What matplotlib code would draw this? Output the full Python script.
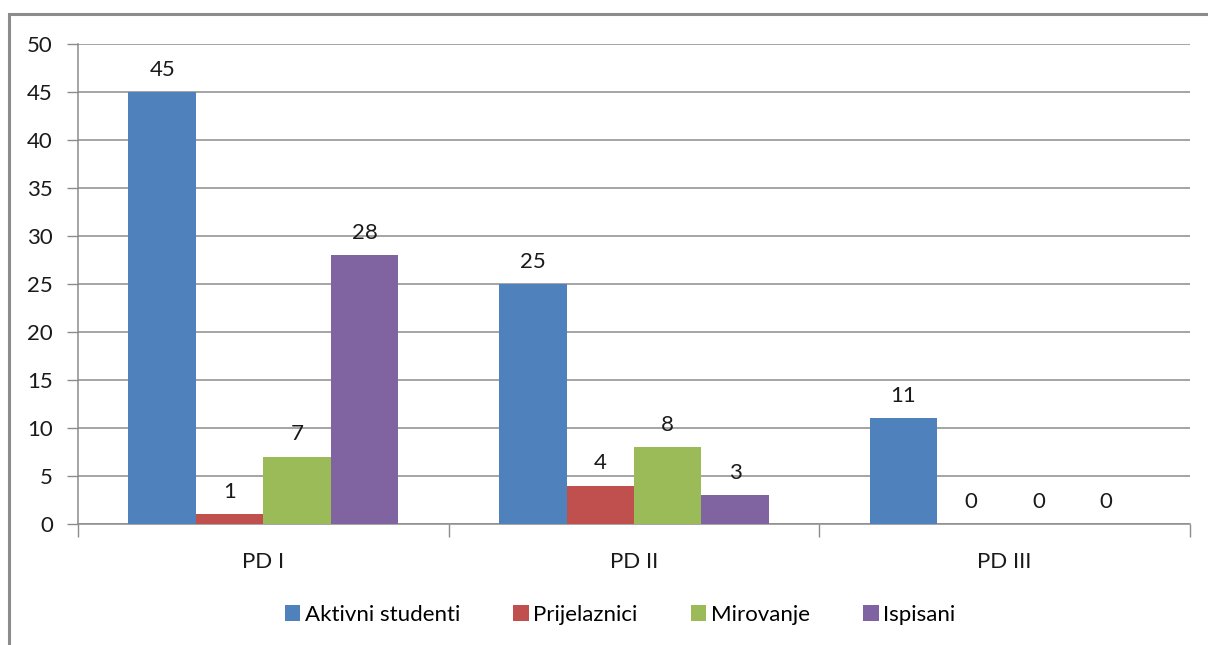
import matplotlib.pyplot as plt
import numpy as np
from matplotlib.patches import Rectangle

categories = ['PD I', 'PD II', 'PD III']
series = ['Aktivni studenti', 'Prijelaznici', 'Mirovanje', 'Ispisani']
values = {
    'Aktivni studenti': [45, 25, 11],
    'Prijelaznici': [1, 4, 0],
    'Mirovanje': [7, 8, 0],
    'Ispisani': [28, 3, 0],
}
colors = ['#4F81BD', '#C0504D', '#9BBB59', '#8064A2']

plt.rcParams['font.family'] = ['Lato', 'DejaVu Sans']
fs = 16

fig = plt.figure(figsize=(12.08, 6.45), dpi=100)
ax = fig.add_axes([78 / 1208, 1 - 524 / 645, (1190 - 78) / 1208, (524 - 44) / 645])

# outer frame of the chart (runs off the right and bottom edges)
fig.patches.append(Rectangle((9 / 1208, -0.05), 1.1, 1 - 14 / 645 + 0.05,
                             transform=fig.transFigure, fill=False,
                             edgecolor='#8C8C8C', linewidth=2.2, zorder=0))

x = np.arange(len(categories))
w = 0.182
for i, (name, col) in enumerate(zip(series, colors)):
    pos = x + (i - 1.5) * w
    ax.bar(pos, values[name], width=w, color=col, label=name, zorder=3)
    for xp, v in zip(pos, values[name]):
        ax.text(xp, v + 1.3, str(v), ha='center', va='bottom', fontsize=fs, color='#1a1a1a')

ax.set_xlim(-0.5, 2.5)
ax.set_ylim(0, 50)
ax.set_yticks(range(0, 51, 5))
ax.yaxis.grid(True, color='#8C8C8C', linewidth=1.1, zorder=0)
ax.set_axisbelow(True)

ax.set_xticks([-0.5, 0.5, 1.5, 2.5])
ax.set_xticklabels([])
ax.set_xticks(x, minor=True)
ax.set_xticklabels(categories, minor=True)
ax.tick_params(axis='x', which='major', length=9, color='#8C8C8C', width=1)
ax.tick_params(axis='x', which='minor', length=0, pad=20, labelsize=fs, labelcolor='#1a1a1a')
ax.tick_params(axis='y', length=8, color='#8C8C8C', width=1, labelsize=fs, labelcolor='#1a1a1a', pad=10)

for s in ['top', 'right']:
    ax.spines[s].set_visible(False)
for s in ['left', 'bottom']:
    ax.spines[s].set_color('#8C8C8C')
    ax.spines[s].set_linewidth(1.1)

fig.legend(loc='center', bbox_to_anchor=(620 / 1208, 1 - 615 / 645), ncol=4,
           frameon=False, fontsize=fs, handlelength=0.7, handleheight=0.7,
           handletextpad=0.2, columnspacing=2.4)

fig.savefig('out.png', dpi=100)
